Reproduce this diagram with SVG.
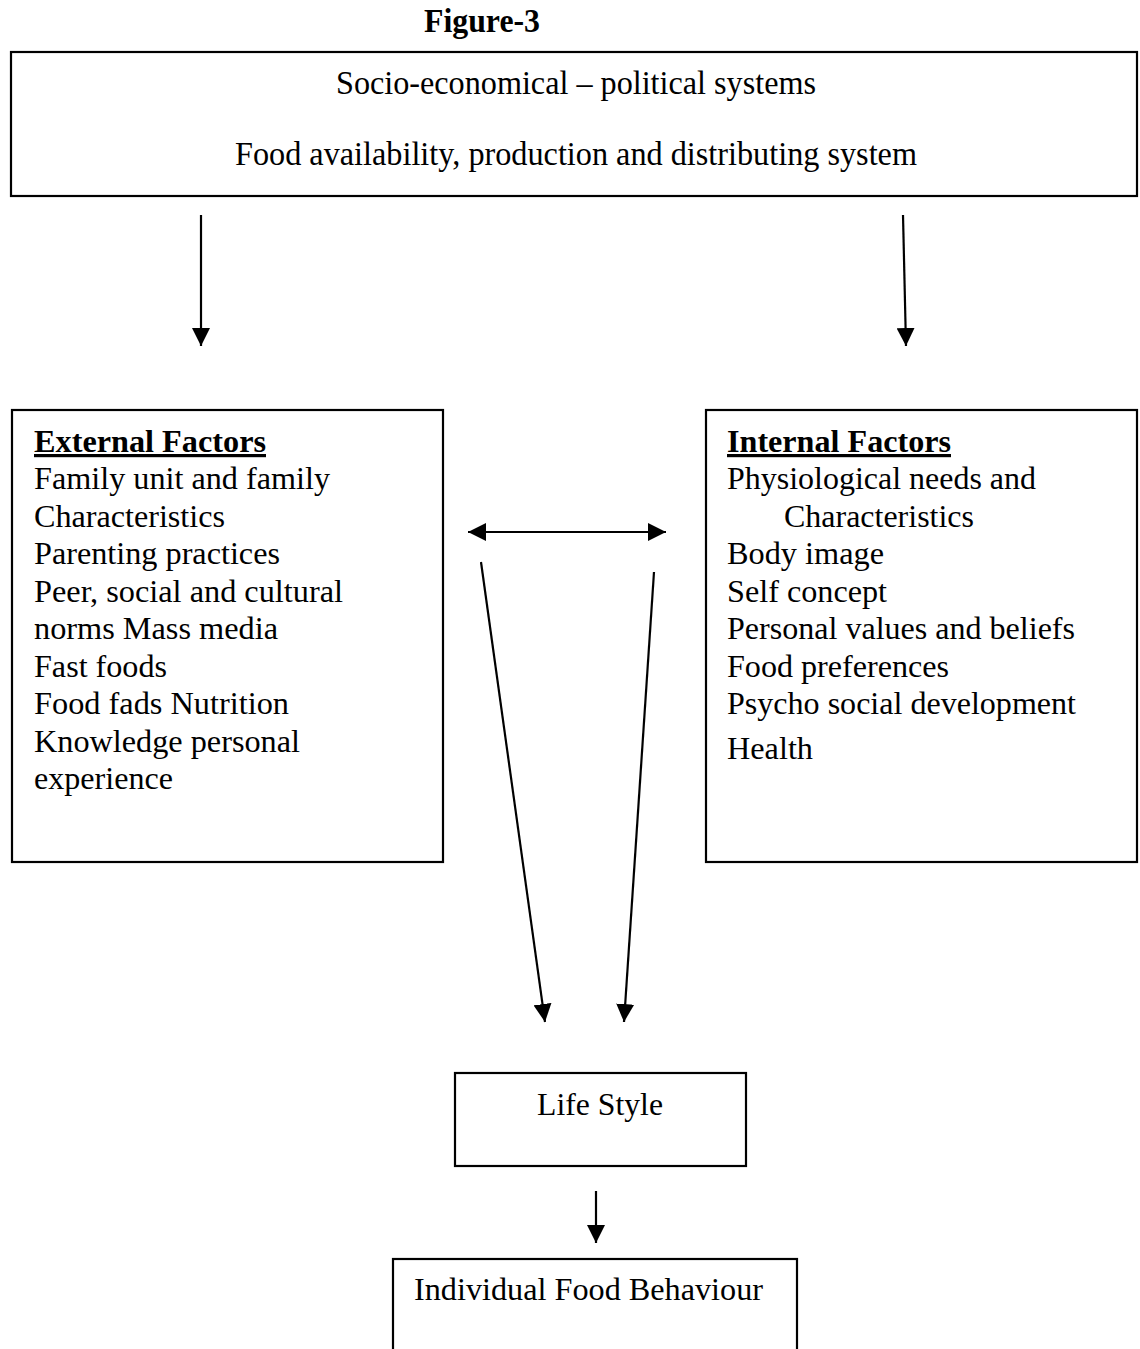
<svg xmlns="http://www.w3.org/2000/svg" width="1140" height="1349" viewBox="0 0 1140 1349">
<style>
.box{fill:none;stroke:#000;stroke-width:2.2}
.t{font-family:"Liberation Serif","Times New Roman",serif;font-size:32px;fill:#000}
.s{font-size:33px}
.b{font-weight:bold}
.u{text-decoration:underline}
.c{stroke:#000;stroke-width:2.2;fill:none}
</style>
<defs>
<marker id="ah" viewBox="0 0 10 10" refX="10" refY="5" markerWidth="18" markerHeight="18" markerUnits="userSpaceOnUse" orient="auto-start-reverse">
<path d="M0,0 L10,5 L0,10 z" fill="#000"/>
</marker>
</defs>
<rect width="1140" height="1349" fill="#fff"/>
<text class="t s b" x="482" y="32" text-anchor="middle" textLength="116" lengthAdjust="spacingAndGlyphs">Figure-3</text>
<g id="top">
<rect class="box" x="11" y="52" width="1126" height="144"/>
<text class="t s" x="576" y="94" text-anchor="middle" textLength="480" lengthAdjust="spacingAndGlyphs">Socio-economical – political systems</text>
<text class="t s" x="576" y="165" text-anchor="middle" textLength="682" lengthAdjust="spacingAndGlyphs">Food availability, production and distributing system</text>
</g>
<g id="external">
<rect class="box" x="12" y="410" width="431" height="452"/>
<text class="t b u" x="34" y="452" textLength="232" lengthAdjust="spacingAndGlyphs">External Factors</text>
<text class="t" x="34" y="489" textLength="296" lengthAdjust="spacingAndGlyphs">Family unit and family</text>
<text class="t" x="34" y="527" textLength="191" lengthAdjust="spacingAndGlyphs">Characteristics</text>
<text class="t" x="34" y="564" textLength="246" lengthAdjust="spacingAndGlyphs">Parenting practices</text>
<text class="t" x="34" y="602" textLength="309" lengthAdjust="spacingAndGlyphs">Peer, social and cultural</text>
<text class="t" x="34" y="639" textLength="244" lengthAdjust="spacingAndGlyphs">norms Mass media</text>
<text class="t" x="34" y="677" textLength="133" lengthAdjust="spacingAndGlyphs">Fast foods</text>
<text class="t" x="34" y="714" textLength="255" lengthAdjust="spacingAndGlyphs">Food fads Nutrition</text>
<text class="t" x="34" y="752" textLength="266" lengthAdjust="spacingAndGlyphs">Knowledge personal</text>
<text class="t" x="34" y="789" textLength="139" lengthAdjust="spacingAndGlyphs">experience</text>
</g>
<g id="internal">
<rect class="box" x="706" y="410" width="431" height="452"/>
<text class="t b u" x="727" y="452" textLength="224" lengthAdjust="spacingAndGlyphs">Internal Factors</text>
<text class="t" x="727" y="489" textLength="309" lengthAdjust="spacingAndGlyphs">Physiological needs and</text>
<text class="t" x="784" y="527" textLength="190" lengthAdjust="spacingAndGlyphs">Characteristics</text>
<text class="t" x="727" y="564" textLength="157" lengthAdjust="spacingAndGlyphs">Body image</text>
<text class="t" x="727" y="602" textLength="160" lengthAdjust="spacingAndGlyphs">Self concept</text>
<text class="t" x="727" y="639" textLength="348" lengthAdjust="spacingAndGlyphs">Personal values and beliefs</text>
<text class="t" x="727" y="677" textLength="222" lengthAdjust="spacingAndGlyphs">Food preferences</text>
<text class="t" x="727" y="714" textLength="349" lengthAdjust="spacingAndGlyphs">Psycho social development</text>
<text class="t" x="727" y="759" textLength="86" lengthAdjust="spacingAndGlyphs">Health</text>
</g>
<g id="lifestyle">
<rect class="box" x="455" y="1073" width="291" height="93"/>
<text class="t" x="537" y="1115" textLength="126" lengthAdjust="spacingAndGlyphs">Life Style</text>
</g>
<g id="behaviour">
<rect class="box" x="393" y="1259" width="404" height="100"/>
<text class="t" x="414" y="1300" textLength="349" lengthAdjust="spacingAndGlyphs">Individual Food Behaviour</text>
</g>
<g id="connectors">
<line class="c" x1="201" y1="215" x2="201" y2="346" marker-end="url(#ah)"/>
<line class="c" x1="903" y1="215" x2="906" y2="346" marker-end="url(#ah)"/>
<line class="c" x1="468" y1="532" x2="666" y2="532" marker-start="url(#ah)" marker-end="url(#ah)"/>
<line class="c" x1="481" y1="562" x2="545" y2="1022" marker-end="url(#ah)"/>
<line class="c" x1="654" y1="572" x2="624" y2="1022" marker-end="url(#ah)"/>
<line class="c" x1="596" y1="1191" x2="596" y2="1243" marker-end="url(#ah)"/>
</g>
</svg>
